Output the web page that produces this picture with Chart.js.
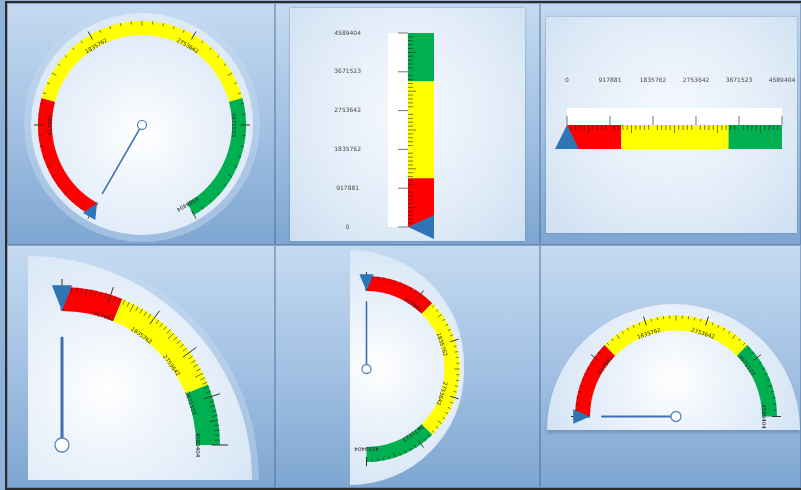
<!DOCTYPE html>
<html>
<head>
<meta charset="utf-8">
<title>Gauges</title>
<script src="https://cdn.jsdelivr.net/npm/chart.js@4.4.1/dist/chart.umd.min.js"></script>
<style>
  html, body { margin: 0; padding: 0; background: #ffffff; }
  #dash { position: relative; width: 801px; height: 490px; overflow: hidden; background: #8fb2da; }
  #dash div, #dash canvas { position: absolute; }
  .cell { background: linear-gradient(180deg, #c4daf0 0%, #a7c4e5 45%, #7ea6d1 100%); box-shadow: inset 0 0 0 1px rgba(70,105,150,0.45); }
  .card { background: radial-gradient(ellipse at 50% 45%, #f5f9fe 0%, #e3edf8 55%, #cddff1 100%); box-shadow: 0 0 2px rgba(60,90,130,0.5); }
  .face { background: radial-gradient(circle at 50% 55%, #ffffff 0%, #edf3fb 35%, #d9e7f6 80%, #cde0f3 100%); }
  .rim { background: rgba(200,220,242,0.45); }
  .frame { border: 2px solid #2b2b2b; border-right: none; box-sizing: border-box; }
</style>
</head>
<body>
<div id="dash">
  <div class="cell" style="left:7px;top:3px;width:268px;height:242px"></div>
  <div class="cell" style="left:275px;top:3px;width:265px;height:242px"></div>
  <div class="cell" style="left:540px;top:3px;width:261px;height:242px"></div>
  <div class="cell" style="left:7px;top:245px;width:268px;height:243px"></div>
  <div class="cell" style="left:275px;top:245px;width:265px;height:243px"></div>
  <div class="cell" style="left:540px;top:245px;width:261px;height:243px"></div>

  <div class="card" style="left:290px;top:8px;width:235px;height:233px"></div>
  <div class="card" style="left:546px;top:17px;width:251px;height:216px"></div>

  <div class="rim" style="left:24px;top:6px;width:236px;height:236px;border-radius:50%"></div>
  <div class="face" style="left:31px;top:13px;width:222px;height:222px;border-radius:50%"></div>
  <div class="rim" style="left:28px;top:249px;width:231px;height:231px;border-top-right-radius:231px"></div>
  <div class="face" style="left:28px;top:256px;width:224px;height:224px;border-top-right-radius:224px;background:radial-gradient(circle at 35% 60%, #ffffff 0%, #edf3fb 35%, #d9e7f6 80%, #cde0f3 100%)"></div>
  <div class="face" style="left:350px;top:250px;width:114px;height:235px;border-radius:0 117px 117px 0 / 0 117px 117px 0;background:radial-gradient(circle at 25% 50%, #ffffff 0%, #edf3fb 35%, #d9e7f6 80%, #cde0f3 100%)"></div>
  <div class="face" style="left:547px;top:304px;width:253px;height:126px;border-radius:127px 127px 0 0 / 126px 126px 0 0;background:radial-gradient(circle at 50% 60%, #ffffff 0%, #edf3fb 35%, #d9e7f6 80%, #cde0f3 100%);box-shadow:0 3px 3px rgba(70,100,140,0.35)"></div>

  <div class="frame" id="frame" style="left:5px;top:1px;width:796px;height:489px"></div>
</div>
<script>
// scale shared by all six gauges
const scaleTicks = [0, 917881, 1835762, 2753642, 3671523, 4589404];
const bandEnds = [1147351, 3442053, 4589404];
const bandColors = ['#ff0000', '#ffff00', '#00b050'];
const pointerValue = 0;

const scaleMax = scaleTicks[scaleTicks.length - 1];
const bandSizes = bandEnds.map((v, i) => v - (i ? bandEnds[i - 1] : 0));
const dash = document.getElementById('dash');
const frame = document.getElementById('frame');

function makeCanvas(w, h) {
    var c = document.createElement('canvas');
    c.width = w;
    c.height = h;
    dash.insertBefore(c, frame);
    return c;
}

// move the canvas so that chart point (px,py) sits on page point (tx,ty)
function pin(chart, px, py, tx, ty) {
    chart.canvas.style.left = Math.round(tx - px) + 'px';
    chart.canvas.style.top = Math.round(ty - py) + 'px';
}

function seg(ctx, x1, y1, x2, y2) {
    ctx.beginPath();
    ctx.moveTo(x1, y1);
    ctx.lineTo(x2, y2);
    ctx.stroke();
}

// ticks, labels, pointer and needle for the round gauges
const gaugeDeco = {
    id: 'gaugeDeco',
    afterDatasetsDraw(chart, args, o) {
        var arcs = chart.getDatasetMeta(0).data;
        var first = arcs[0], last = arcs[arcs.length - 1];
        var cx = first.x, cy = first.y, ro = first.outerRadius, ri = first.innerRadius;
        var ang = v => first.startAngle + (last.endAngle - first.startAngle) * v / scaleMax;
        var pt = (t, r) => [cx + r * Math.cos(t), cy + r * Math.sin(t)];
        var ctx = chart.ctx;
        ctx.save();

        ctx.strokeStyle = 'rgba(30,30,30,0.75)';
        ctx.lineWidth = 0.8;
        for (var i = 0; i < scaleTicks.length - 1; i++) {
            var a = scaleTicks[i], b = scaleTicks[i + 1];
            for (var j = 1; j < 10; j++) {
                var t = ang(a + (b - a) * j / 10);
                var len = j === 5 ? o.minor * 1.7 : o.minor;
                var p1 = pt(t, ro), p2 = pt(t, ro - len);
                seg(ctx, p1[0], p1[1], p2[0], p2[1]);
            }
        }
        ctx.strokeStyle = '#333333';
        ctx.lineWidth = 1;
        scaleTicks.forEach(v => {
            var t = ang(v);
            var p1 = pt(t, ro + o.out), p2 = pt(t, ro - o.minor * 1.7);
            seg(ctx, p1[0], p1[1], p2[0], p2[1]);
        });

        ctx.fillStyle = '#2a2a2a';
        ctx.font = '5.5px "DejaVu Sans"';
        ctx.textAlign = 'center';
        ctx.textBaseline = 'middle';
        scaleTicks.forEach(v => {
            var t = ang(v), p = pt(t, ri + 1);
            ctx.save();
            ctx.translate(p[0], p[1]);
            ctx.rotate(t + Math.PI / 2);
            ctx.fillText(String(v), 0, 0);
            ctx.restore();
        });

        // blue pointer on the band
        var tp = ang(pointerValue), hw = o.tri / ro;
        var q0 = pt(tp, ri), q1 = pt(tp - hw, ro + 2), q2 = pt(tp + hw, ro + 2);
        ctx.fillStyle = '#2e75b6';
        ctx.beginPath();
        ctx.moveTo(q0[0], q0[1]);
        ctx.lineTo(q1[0], q1[1]);
        ctx.lineTo(q2[0], q2[1]);
        ctx.closePath();
        ctx.fill();

        // needle
        var tip = pt(tp, o.needle);
        ctx.strokeStyle = '#3c72b0';
        ctx.lineWidth = o.lw;
        ctx.lineCap = 'round';
        seg(ctx, cx, cy, tip[0], tip[1]);
        ctx.beginPath();
        ctx.arc(cx, cy, o.hub, 0, Math.PI * 2);
        ctx.fillStyle = '#ffffff';
        ctx.fill();
        ctx.lineWidth = 1.3;
        ctx.strokeStyle = '#5a88bd';
        ctx.stroke();
        ctx.restore();
    }
};

const gauges = [
    { cx: 142, cy: 125, r: 104, w: 14, rot: 210, circ: 300, needle: 79, hub: 4.5, lw: 1.6, minor: 3, out: 4, tri: 7 },
    { cx: 62, cy: 445, r: 158, w: 24, rot: 0, circ: 90, needle: 107, hub: 7, lw: 3, minor: 5, out: 8, tri: 10 },
    { cx: 366, cy: 369, r: 93, w: 15, rot: 0, circ: 180, needle: 67, hub: 4.5, lw: 1.6, minor: 3, out: 4, tri: 7 },
    { cx: 676, cy: 416, r: 101, w: 15, rot: -90, circ: 180, needle: 74, hub: 5, lw: 2, minor: 3, out: 4, tri: 7 }
];

gauges.forEach(g => {
    var size = 2 * g.r + 60;
    var chart = new Chart(makeCanvas(size, size), {
        type: 'doughnut',
        data: {
            labels: ['low', 'mid', 'high'],
            datasets: [{ data: bandSizes, backgroundColor: bandColors, borderWidth: 0 }]
        },
        options: {
            responsive: false,
            animation: false,
            events: [],
            rotation: g.rot,
            circumference: g.circ,
            radius: g.r,
            cutout: ((g.r - g.w) / g.r * 100) + '%',
            plugins: { legend: { display: false }, tooltip: { enabled: false }, gaugeDeco: g }
        },
        plugins: [gaugeDeco]
    });
    var arc = chart.getDatasetMeta(0).data[0];
    pin(chart, arc.x, arc.y, g.cx, g.cy);
});

// white strip, ticks and pointer for the two straight gauges
const linearDeco = {
    id: 'linearDeco',
    beforeDatasetsDraw(chart, args, o) {
        var a = chart.chartArea, ctx = chart.ctx;
        ctx.save();
        ctx.fillStyle = '#ffffff';
        if (o.vertical) ctx.fillRect(a.left - 20, a.top, 20, a.bottom - a.top);
        else ctx.fillRect(a.left, a.top - 17, a.right - a.left, 17);
        ctx.restore();
    },
    afterDatasetsDraw(chart, args, o) {
        var a = chart.chartArea, ctx = chart.ctx;
        var s = o.vertical ? chart.scales.y : chart.scales.x;
        ctx.save();
        ctx.strokeStyle = 'rgba(30,30,30,0.7)';
        ctx.lineWidth = 0.8;
        for (var i = 0; i < scaleTicks.length - 1; i++) {
            var lo = scaleTicks[i], hi = scaleTicks[i + 1];
            for (var j = 1; j < 10; j++) {
                var p = s.getPixelForValue(lo + (hi - lo) * j / 10);
                var len = j === 5 ? 8 : 5;
                if (o.vertical) seg(ctx, a.left, p, a.left + len, p);
                else seg(ctx, p, a.top, p, a.top + len);
            }
        }
        ctx.strokeStyle = '#777777';
        ctx.lineWidth = 1;
        scaleTicks.forEach(v => {
            var p = s.getPixelForValue(v);
            if (o.vertical) seg(ctx, a.left - 10, p, a.left, p);
            else seg(ctx, p, a.top - 9, p, a.top);
        });
        var pv = s.getPixelForValue(pointerValue);
        ctx.fillStyle = '#2e75b6';
        ctx.beginPath();
        if (o.vertical) {
            ctx.moveTo(a.left, pv);
            ctx.lineTo(a.right, pv - 12);
            ctx.lineTo(a.right, pv + 12);
        } else {
            ctx.moveTo(pv, a.top);
            ctx.lineTo(pv - 12, a.bottom);
            ctx.lineTo(pv + 12, a.bottom);
        }
        ctx.closePath();
        ctx.fill();
        ctx.restore();
    }
};

function bandSets() {
    return bandEnds.map((hi, i) => ({
        data: [[i ? bandEnds[i - 1] : 0, hi]],
        backgroundColor: bandColors[i],
        borderWidth: 0,
        grouped: false,
        barPercentage: 1,
        categoryPercentage: 1
    }));
}

function valueAxis(pad, cross, extra) {
    return Object.assign({
        min: 0,
        max: scaleMax,
        afterBuildTicks: s => { s.ticks = scaleTicks.map(v => ({ value: v })); },
        grid: { display: false, drawTicks: false },
        border: { display: false },
        ticks: {
            padding: pad,
            crossAlign: cross,
            font: { size: 6, family: '"DejaVu Sans"' },
            color: '#4a4a4a',
            callback: v => String(v)
        }
    }, extra);
}

// vertical bar gauge
var vChart = new Chart(makeCanvas(106, 220), {
    type: 'bar',
    data: { labels: [''], datasets: bandSets() },
    options: {
        responsive: false,
        animation: false,
        events: [],
        layout: { padding: { top: 10, bottom: 16, left: 0, right: 0 } },
        plugins: { legend: { display: false }, tooltip: { enabled: false }, linearDeco: { vertical: true } },
        scales: {
            x: { display: false },
            y: valueAxis(47, 'center', {
                afterFit: s => { s.width = 80; s.paddingTop = 0; s.paddingBottom = 0; }
            })
        }
    },
    plugins: [linearDeco]
});
pin(vChart, vChart.chartArea.left, vChart.chartArea.top, 408, 33);

// horizontal bar gauge
var hChart = new Chart(makeCanvas(255, 88), {
    type: 'bar',
    data: { labels: [''], datasets: bandSets() },
    options: {
        indexAxis: 'y',
        responsive: false,
        animation: false,
        events: [],
        layout: { padding: { top: 0, bottom: 14, left: 20, right: 20 } },
        plugins: { legend: { display: false }, tooltip: { enabled: false }, linearDeco: { vertical: false } },
        scales: {
            x: valueAxis(41, 'near', {
                position: 'top',
                afterFit: s => { s.height = 50; s.paddingLeft = 0; s.paddingRight = 0; }
            }),
            y: { display: false }
        }
    },
    plugins: [linearDeco]
});
pin(hChart, hChart.chartArea.left, hChart.chartArea.top, 567, 125);
</script>
</body>
</html>
